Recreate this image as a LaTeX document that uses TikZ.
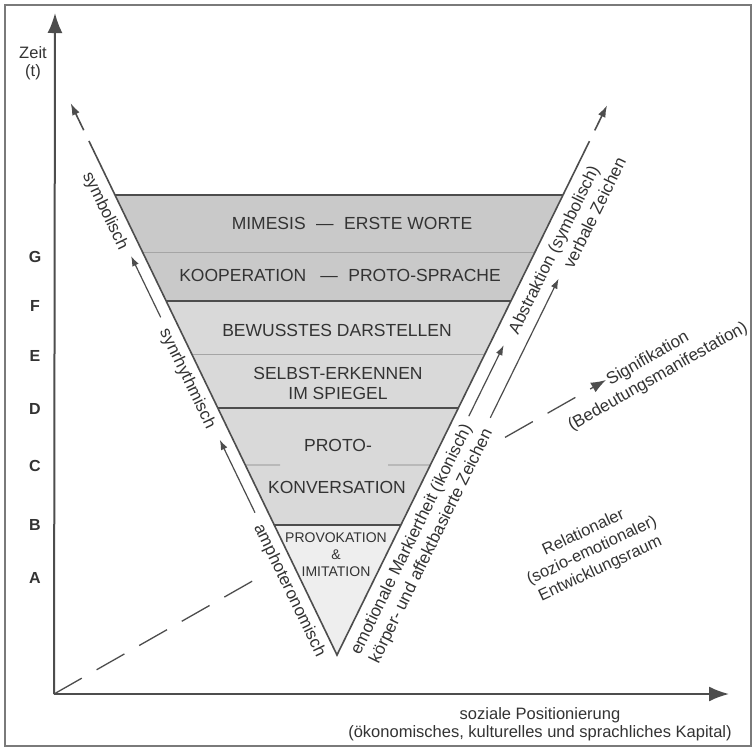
\documentclass[tikz,border=0pt]{standalone}
\usepackage{fontspec}
\setmainfont{Liberation Sans}
\usetikzlibrary{calc,arrows.meta}

\definecolor{lin}{HTML}{4D4D4D}
\definecolor{txt}{HTML}{333333}
\definecolor{bandtop}{HTML}{C9C9C9}
\definecolor{bandmid}{HTML}{D9D9D9}
\definecolor{bandlow}{HTML}{EEEEEE}
\definecolor{sepl}{HTML}{A5A5A5}
\definecolor{framecol}{HTML}{7A7A7A}

\begin{document}
\begin{tikzpicture}[x=1pt,y=-1pt,
  every node/.style={text=txt, inner sep=0pt},
  bandtext/.style={font=\fontsize{17.5}{20}\selectfont, align=center},
  smallband/.style={font=\fontsize{14}{17}\selectfont, align=center},
  sidetext/.style={font=\fontsize{17}{20.5}\selectfont, align=center},
  ylabel/.style={font=\fontsize{16}{19}\selectfont\bfseries},
  axtext/.style={font=\fontsize{16.5}{18.5}\selectfont, align=center},
  axisline/.style={draw=lin, line width=2pt, -{Latex[length=20pt,width=15pt]}},
  edgeline/.style={draw=lin, line width=1.6pt},
  darksep/.style={draw=lin, line width=1.4pt},
  lightsep/.style={draw=sepl, line width=0.8pt},
  sidearrow/.style={draw=lin, line width=1.2pt, -{Latex[length=10pt,width=7pt]}},
  diagline/.style={draw=lin, line width=1.3pt, dash pattern=on 32pt off 17pt},
]
% canvas and frame
\fill[white] (0,0) rectangle (756,748);
\useasboundingbox (0,0) rectangle (756,748);
\draw[framecol, line width=1.5pt] (5,5) rectangle (751,746);

% inverted triangle and its band boundaries
\coordinate (TL) at (115,195);
\coordinate (TR) at (563,195);
\coordinate (A) at (337,655);
\foreach \n/\f in {1/0.1239,2/0.2304,3/0.3457,4/0.4630,5/0.5870,6/0.7174} {
  \coordinate (L\n) at ($(TL)!\f!(A)$);
  \coordinate (R\n) at ($(TR)!\f!(A)$);
}
\fill[bandtop] (TL) -- (TR) -- (R2) -- (L2) -- cycle;
\fill[bandmid] (L2) -- (R2) -- (R6) -- (L6) -- cycle;
\fill[bandlow] (L6) -- (R6) -- (A) -- cycle;

\draw[lightsep] (L1) -- (R1);
\draw[lightsep] (L3) -- (R3);
\coordinate (S5a) at (280,465);
\coordinate (S5b) at (388,465);
\draw[lightsep, draw=gray] (L5) -- (S5a);
\draw[lightsep, draw=gray] (S5b) -- (R5);
\draw[darksep] (TL) -- (TR);
\draw[darksep] (L2) -- (R2);
\draw[darksep] (L4) -- (R4);
\draw[darksep] (L6) -- (R6);
\draw[edgeline] (TL) -- (A) -- (TR);

% dashed extensions of the triangle sides
\coordinate (LE1) at ($(TL)!-60pt!(A)$);
\coordinate (LE2) at ($(TL)!-72pt!(A)$);
\coordinate (LE3) at ($(TL)!-102pt!(A)$);
\coordinate (RE1) at ($(TR)!-60pt!(A)$);
\coordinate (RE2) at ($(TR)!-72pt!(A)$);
\coordinate (RE3) at ($(TR)!-100pt!(A)$);
\draw[edgeline] (TL) -- (LE1);
\draw[edgeline, -{Latex[length=12pt,width=8pt]}] (LE2) -- (LE3);
\draw[edgeline] (TR) -- (RE1);
\draw[edgeline, -{Latex[length=12pt,width=8pt]}] (RE2) -- (RE3);

% stage labels
\node[bandtext] (mim) at (352,223) {MIMESIS\hspace{0.6em}—\hspace{0.6em}ERSTE WORTE};
\node[bandtext] (koop) at (340,275) {KOOPERATION\hspace{0.8em}—\hspace{0.6em}PROTO-SPRACHE};
\node[bandtext] (bew) at (337,330) {BEWUSSTES DARSTELLEN};
\node[bandtext] (selbst) at (338,383) {SELBST-ERKENNEN\\IM SPIEGEL};
\node[bandtext] (proto) at (338,445) {PROTO-};
\node[bandtext] (konv) at (337,487) {KONVERSATION};
\node[smallband] (prov) at (336,555) {PROVOKATION\\\&\\IMITATION};

% axes
\coordinate (O) at (54,694);
\coordinate (Ytip) at (55,13);
\coordinate (Xtip) at (729,694);
\draw[axisline] (O) -- (Ytip);
\draw[axisline] (O) -- (Xtip);
\node[axtext] (zeit) at (33,63) {Zeit\\(t)};
\node[axtext] (xlab) at (540,724) {soziale Positionierung\\(ökonomisches, kulturelles und sprachliches Kapital)};

\node[ylabel] (yG) at (35,257) {G};
\node[ylabel] (yF) at (35,306) {F};
\node[ylabel] (yE) at (35,356) {E};
\node[ylabel] (yD) at (35,409) {D};
\node[ylabel] (yC) at (35,466) {C};
\node[ylabel] (yB) at (35,525) {B};
\node[ylabel] (yA) at (35,578) {A};

% dashed diagonal towards signification
\coordinate (D1) at (255,579.6);
\coordinate (D2) at (505,437.4);
\coordinate (Dtip) at (606,380);
\draw[diagline] (O) -- (D1);
\draw[diagline, -{Latex[length=15pt,width=11pt]}] (D2) -- (Dtip);
\node[sidetext, rotate=29.6] (sig) at (653,368) {Signifikation\\(Bedeutungsmanifestation)};
\node[sidetext, rotate=25, font=\fontsize{16.5}{20}\selectfont] (rel) at (592,551) {Relationaler\\(sozio-emotionaler)\\Entwicklungsraum};

% left side: labels and arrows
\node[sidetext, rotate=-64.24] (symb) at (104.9,211.0) {symbolisch};
\node[sidetext, rotate=-64.24] (synr) at (187.1,378.9) {synrhythmisch};
\node[sidetext, rotate=-64.24] (amph) at (289.2,590.6) {amphoteronomisch};
\coordinate (la1t) at (160.7,317.3);
\coordinate (la1h) at (131.1,256.1);
\coordinate (la2t) at (255.0,512.7);
\coordinate (la2h) at (219.8,439.8);
\draw[sidearrow] (la1t) -- (la1h);
\draw[sidearrow] (la2t) -- (la2h);

% right side: labels and arrows
\node[sidetext, rotate=63.83] (abst) at (554.9,250.1) {Abstraktion (symbolisch)};
\node[sidetext, rotate=63.83] (verb) at (594.4,212.7) {verbale Zeichen};
\node[sidetext, rotate=63.83] (emot) at (412.0,539.8) {emotionale Markiertheit (ikonisch)};
\node[sidetext, rotate=63.83] (koerp) at (431.7,546.1) {körper- und affektbasierte Zeichen};
\coordinate (ra1t) at (468.8,416.2);
\coordinate (ra1h) at (503.7,345.2);
\coordinate (ra2t) at (490.3,417.8);
\coordinate (ra2h) at (558.6,278.7);
\draw[sidearrow] (ra1t) -- (ra1h);
\draw[sidearrow] (ra2t) -- (ra2h);
\end{tikzpicture}
\end{document}
